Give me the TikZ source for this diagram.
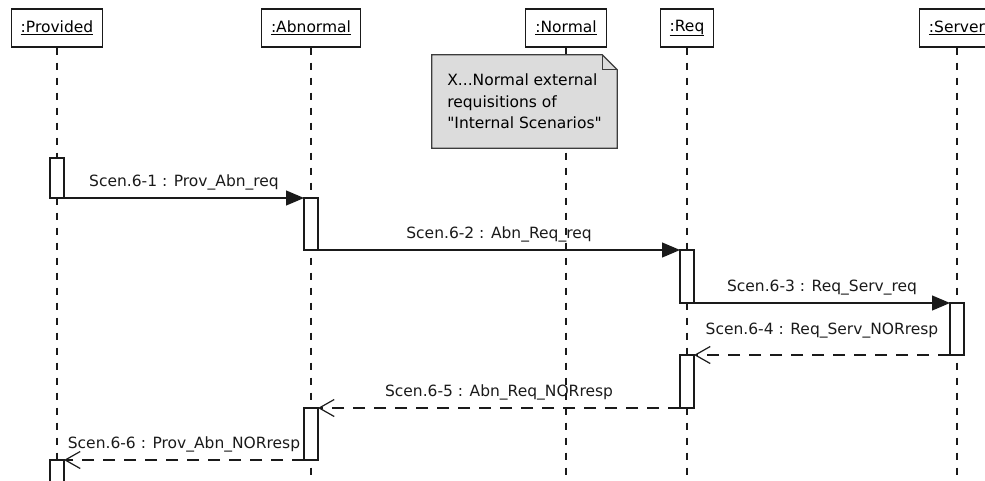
\documentclass[tikz,border=0pt]{standalone}
\usepackage{fontspec}
\setmainfont{DejaVu Sans}[Ligatures=TeXOff]
\usepackage{tikz}
\usetikzlibrary{arrows.meta,backgrounds}
\definecolor{ink}{HTML}{1A1A1A}
\definecolor{notegray}{HTML}{DCDCDC}
\definecolor{noteline}{HTML}{3C3C3C}
\tikzset{
  head/.style  ={draw=ink,line width=1.2pt,fill=white,minimum height=38pt,
                 inner xsep=9.5pt,inner ysep=0pt},
  bar/.style   ={draw=ink,line width=1.2pt,fill=white,minimum width=14pt,
                 inner sep=0pt,outer sep=0pt},
  life/.style  ={draw=ink,line width=1.2pt,dash pattern=on 7pt off 8pt},
  note/.style  ={minimum width=185pt,minimum height=93pt,align=left,
                 font=\fontsize{15.5}{21.5}\selectfont},
  notebg/.style={draw=noteline,line width=1.2pt,fill=notegray},
  call/.style  ={-{Triangle[length=18pt,width=15pt]},line width=1.2pt,draw=ink},
  reply/.style ={-{Straight Barb[length=15pt,width=17pt,line width=1.2pt]},
                 line width=1.2pt,draw=ink,dash pattern=on 12pt off 9pt},
  msg/.style   ={above=4pt,inner sep=3pt,text=ink}
}

\begin{document}
\begin{tikzpicture}[x=1pt,y=-1pt,font=\fontsize{15.5}{19}\selectfont]
  \useasboundingbox (0,0) rectangle (985,480);
  \clip (0,0) rectangle (985,480);
  \coordinate (bottom) at (0,480);
  % lifeline heads
  \node[head] (prov) at (57,28)  {\underline{:Provided}};
  \node[head] (abn)  at (311,28) {\underline{:Abnormal}};
  \node[head] (nor)  at (566,28) {\underline{:Normal}};
  \node[head] (req)  at (687,28) {\underline{:Req}};
  \node[head] (srv)  at (957,28) {\underline{:Server}};
  % note
  \node[note] (note) at (524.5,101.5)
    {X...Normal external\\requisitions of\\"Internal Scenarios"};
  \begin{scope}[on background layer]
    \foreach \l in {prov,abn,nor,req,srv}
      \draw[life] (\l.south) -- (\l.south |- bottom);
    \coordinate (fold) at (note.north east);
    \draw[notebg] (note.south west) |- ([xshift=-15pt]fold)
      -- ([yshift=-15pt]fold) |- cycle;
    \draw[draw=noteline,line width=1.2pt]
      ([xshift=-15pt]fold) |- ([yshift=-15pt]fold);
  \end{scope}
  % activation bars
  \node[bar,minimum height=40pt] (prov1) at (prov |- 0,178)   {};
  \node[bar,minimum height=52pt] (abn1)  at (abn |- 0,224)    {};
  \node[bar,minimum height=53pt] (req1)  at (req |- 0,276.5)  {};
  \node[bar,minimum height=52pt] (srv1)  at (srv |- 0,329)    {};
  \node[bar,minimum height=53pt] (req2)  at (req |- 0,381.5)  {};
  \node[bar,minimum height=52pt] (abn2)  at (abn |- 0,434)    {};
  \node[bar,minimum height=40pt] (prov2) at (prov |- 0,480)   {};
  % messages
  \draw[call] (prov1.south east) -- node[msg] (m1) {Scen.6-1 : Prov\_Abn\_req} (abn1.north west);
  \draw[call] (abn1.south east) -- node[msg] (m2) {Scen.6-2 : Abn\_Req\_req} (req1.north west);
  \draw[call] (req1.south east) -- node[msg] (m3) {Scen.6-3 : Req\_Serv\_req} (srv1.north west);
  \draw[reply] (srv1.south west) -- node[msg,above=9pt] (m4) {Scen.6-4 : Req\_Serv\_NORresp} (req2.north east);
  \draw[reply] (req2.south west) -- node[msg] (m5) {Scen.6-5 : Abn\_Req\_NORresp} (abn2.north east);
  \draw[reply] (abn2.south west) -- node[msg] (m6) {Scen.6-6 : Prov\_Abn\_NORresp} (prov2.north east);
\end{tikzpicture}
\end{document}
